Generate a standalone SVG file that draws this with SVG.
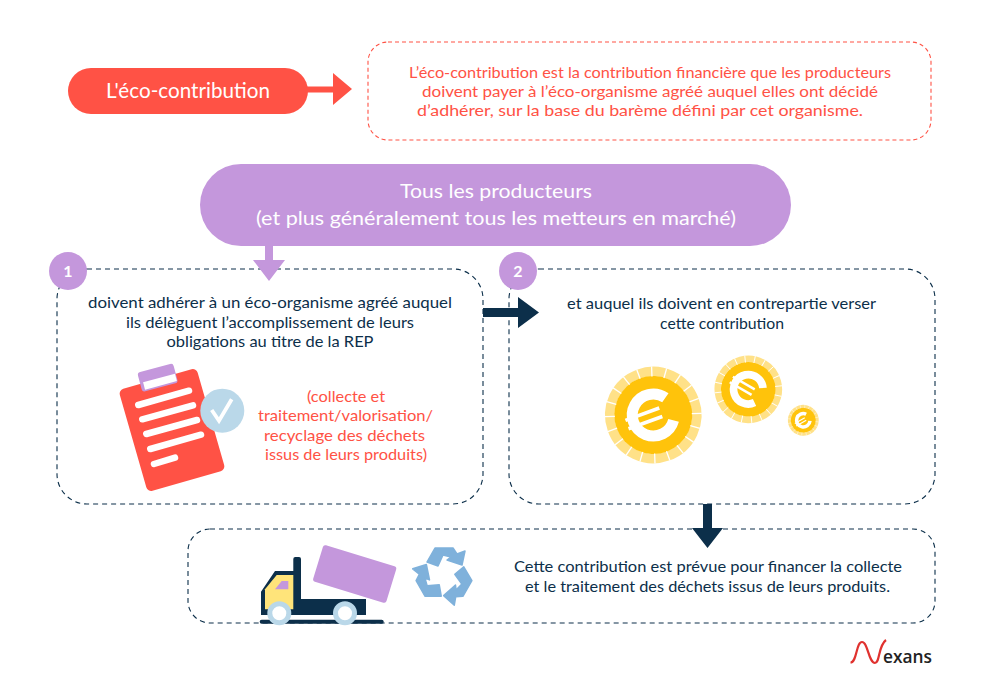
<svg xmlns="http://www.w3.org/2000/svg" xmlns:xlink="http://www.w3.org/1999/xlink" width="991" height="682" viewBox="0 0 991 682">
<style>
text{font-family:"Lato","Liberation Sans",sans-serif;text-anchor:middle}
.n{fill:#0c2f4a;font-size:15px}
.r{fill:#ff5245;font-size:15px}
.w{fill:#fff}
.box{fill:#fff;stroke:#0c2f4a;stroke-width:1.1;stroke-dasharray:5 4}
.l{stroke:#fff;stroke-width:6.5;stroke-linecap:round;fill:none}
</style>
<defs>
<g id="coin">
<circle r="43.5" fill="none" stroke="#ffe188" stroke-width="9.5"/>
<circle r="39" fill="#ffc30b"/>
<g stroke="#fff" stroke-width="1.3" id="ticks">
<path d="M0-38.5V-48.5M0 38.5V48.5M38.5 0H48.5M-38.5 0H-48.5"/>
<path d="M0-38.5V-48.5M0 38.5V48.5M38.5 0H48.5M-38.5 0H-48.5" transform="rotate(18)"/>
<path d="M0-38.5V-48.5M0 38.5V48.5M38.5 0H48.5M-38.5 0H-48.5" transform="rotate(36)"/>
<path d="M0-38.5V-48.5M0 38.5V48.5M38.5 0H48.5M-38.5 0H-48.5" transform="rotate(54)"/>
<path d="M0-38.5V-48.5M0 38.5V48.5M38.5 0H48.5M-38.5 0H-48.5" transform="rotate(72)"/>
</g>
<path d="M17.2-12A21 21 0 1 0 17.2 12" fill="none" stroke="#fff" stroke-width="11"/>
<path d="M-28-4.5H8M-28 4.5H8" stroke="#fff" stroke-width="3.6"/>
<path d="M-8-4.5H8M-8 4.5H8" stroke="#ffc30b" stroke-width="0"/>
</g>
<polygon id="rc" points="-17,-13 -9,-27 9,-27 13,-21 21,-24 18,-10 3,-15 7,-18 -1,-20 -6,-9" fill="#7fb1db" stroke="#7fb1db" stroke-width="1.5" stroke-linejoin="round"/>
</defs>
<rect width="991" height="682" fill="#fff"/>

<g id="box-definition">
<rect x="368" y="42" width="563" height="98" rx="20" fill="#fff" stroke="#ff5245" stroke-width="1.1" stroke-dasharray="4 3"/>
<text class="r" x="650" y="78" textLength="482" lengthAdjust="spacingAndGlyphs">L’éco-contribution est la contribution financière que les producteurs</text>
<text class="r" x="650" y="97" textLength="456" lengthAdjust="spacingAndGlyphs">doivent payer à l’éco-organisme agréé auquel elles ont décidé</text>
<text class="r" x="640" y="116" textLength="446" lengthAdjust="spacingAndGlyphs">d’adhérer, sur la base du barème défini par cet organisme.</text>
</g>
<g id="box-1">
<rect class="box" x="57" y="269" width="426" height="235" rx="30"/>
<text class="n" x="270" y="308" textLength="364" lengthAdjust="spacingAndGlyphs">doivent adhérer à un éco-organisme agréé auquel</text>
<text class="n" x="270" y="328" textLength="288" lengthAdjust="spacingAndGlyphs">ils délèguent l’accomplissement de leurs</text>
<text class="n" x="270" y="347" textLength="207" lengthAdjust="spacingAndGlyphs">obligations au titre de la REP</text>
<text class="r" x="346" y="402" textLength="78" lengthAdjust="spacingAndGlyphs">(collecte et</text>
<text class="r" x="345.500" y="421" textLength="175" lengthAdjust="spacingAndGlyphs">traitement/valorisation/</text>
<text class="r" x="344.500" y="441" textLength="161" lengthAdjust="spacingAndGlyphs">recyclage des déchets</text>
<text class="r" x="346" y="460" textLength="162" lengthAdjust="spacingAndGlyphs">issus de leurs produits)</text>
<g id="clipboard">
<rect x="-40.500" y="-53" width="81" height="106" rx="5" transform="translate(172 430) rotate(-16)" fill="#ff5245"/>
<rect x="-18.500" y="-10" width="37" height="20" rx="3" transform="translate(157.700 377.700) rotate(-15)" fill="#c497dc"/>
<rect x="-16.500" y="-3.800" width="33" height="7.600" transform="translate(160 381.700) rotate(-15)" fill="#fff"/>
<path class="l" d="M138.300 405L189 390.700M142.300 419.300L193 405.300M146.300 434L197 420M150.300 449L201 434.700M154 464L175 457.700"/>
<circle cx="222.300" cy="410.700" r="22" fill="#bad8e9"/>
<path d="M211.700 410L219 420.700L231.700 399.300" fill="none" stroke="#fff" stroke-width="3.800"/>
</g>
</g>
<g id="box-2">
<rect class="box" x="509" y="269" width="426" height="235" rx="30"/>
<text class="n" x="721.500" y="309" textLength="309" lengthAdjust="spacingAndGlyphs">et auquel ils doivent en contrepartie verser</text>
<text class="n" x="722" y="329" textLength="124" lengthAdjust="spacingAndGlyphs">cette contribution</text>
<g id="coins">
<use href="#coin" transform="translate(653.300 415) rotate(-20)"/>
<use href="#coin" transform="translate(748.300 389.300) rotate(30) scale(.7)"/>
<use href="#coin" transform="translate(803.300 420.300) rotate(-30) scale(.32)"/>
</g>
</g>
<g id="box-3">
<rect class="box" x="188" y="529" width="747" height="94" rx="22"/>
<text class="n" x="708" y="572" textLength="388" lengthAdjust="spacingAndGlyphs">Cette contribution est prévue pour financer la collecte</text>
<text class="n" x="707.500" y="592" textLength="365" lengthAdjust="spacingAndGlyphs">et le traitement des déchets issus de leurs produits.</text>
<g id="truck">
<path d="M261.700 621.700H381.700" stroke="#0c2f4a" stroke-width="4" stroke-linecap="round"/>
<path d="M261 591.700L275 571H293.300V559a2 2 0 0 1 2-2h3.700a2 2 0 0 1 2 2V599H366V615H261Z" fill="#0c2f4a"/>
<path d="M265 589.300L276.700 575H293.300V609.300H265Z" fill="#ffe47a"/>
<path d="M275 589.300L281.700 581H288.300V589.300Z" fill="#c497dc"/>
<rect x="-38.300" y="-19" width="76.600" height="38" rx="2.500" transform="translate(354.700 574) rotate(17)" fill="#c497dc"/>
<circle cx="279.300" cy="613.300" r="9.500" fill="#fff" stroke="#bad8e9" stroke-width="5"/>
<circle cx="345" cy="613.300" r="9.500" fill="#fff" stroke="#bad8e9" stroke-width="5"/>
</g>
<g id="recycle" transform="translate(444 575)">
<use href="#rc"/>
<use href="#rc" transform="rotate(120)"/>
<use href="#rc" transform="rotate(240)"/>
</g>
</g>
<g id="connectors">
<path d="M306 86.500H333V73L352 89L333 105V92.500H306Z" fill="#ff5245"/>
<path d="M265 240H273V260H285L269 281L253 260H265Z" fill="#c497dc"/>
<path d="M483 308H518V297L539 312.500L518 328V317H483Z" fill="#0c2f4a"/>
<path d="M703 504H712V528H723L707.500 548L692 528H703Z" fill="#0c2f4a"/>
</g>
<g id="node-title">
<rect x="68" y="68" width="240" height="46" rx="23" fill="#ff5245"/>
<text class="w" x="188" y="98" font-size="21" textLength="164" lengthAdjust="spacingAndGlyphs">L'éco-contribution</text>
</g>
<g id="node-producers">
<rect x="200" y="164" width="591" height="82" rx="41" fill="#c497dc"/>
<text class="w" x="496" y="198" font-size="20" textLength="192" lengthAdjust="spacingAndGlyphs">Tous les producteurs</text>
<text class="w" x="496" y="225" font-size="20" textLength="480" lengthAdjust="spacingAndGlyphs">(et plus généralement tous les metteurs en marché)</text>
</g>
<g id="badge-1">
<circle cx="68" cy="271" r="19" fill="#c497dc"/>
<text class="w" x="68" y="277" font-size="16" font-weight="700">1</text>
</g>
<g id="badge-2">
<circle cx="518" cy="271" r="19" fill="#c497dc"/>
<text class="w" x="518" y="277" font-size="16" font-weight="700">2</text>
</g>
<g id="logo">
<path d="M850.500 662.500C857 662.500 856 642 862 642C868 642 868.500 663 875 663C880 663 878 646 886 640" fill="none" stroke="#e0322f" stroke-width="2.200"/>
<text x="907.500" y="663" fill="#222" font-size="18" style="font-family:'Open Sans','Liberation Sans',sans-serif" font-weight="600" textLength="49" lengthAdjust="spacingAndGlyphs">exans</text>
</g>
</svg>
